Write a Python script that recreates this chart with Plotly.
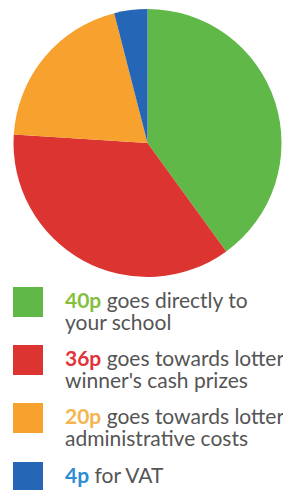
import plotly.graph_objects as go

# ---- data ----
amounts = ["40p", "36p", "20p", "4p"]
values = [40, 36, 20, 4]
line1_texts = ["goes directly to", "goes towards lottery", "goes towards lottery", "for VAT"]
line2_texts = ["your school", "winner's cash prizes", "administrative costs", ""]
slice_colors = ["#5FB847", "#DC3431", "#F7A22E", "#2566B6"]
amount_colors = ["#84BF3E", "#E2333A", "#F4B54E", "#2B8ED6"]

W, H = 283, 490

def px_x(x):
    return x / W

def px_y(y):
    return 1 - y / H

fig = go.Figure()

cx, cy, r = 147.5, 143, 134
fig.add_trace(go.Pie(
    values=values,
    labels=amounts,
    sort=False,
    direction="clockwise",
    rotation=0,
    marker=dict(colors=slice_colors, line=dict(width=0)),
    textinfo="none",
    hoverinfo="label+value",
    domain=dict(x=[px_x(cx - r), px_x(cx + r)], y=[px_y(cy + r), px_y(cy - r)]),
    showlegend=False,
))

shapes = []
annotations = []
row_top = [287, 345, 403, 462]
font = dict(family="Lato", size=21, color="#555555")
for i, amt in enumerate(amounts):
    t = row_top[i]
    shapes.append(dict(
        type="rect", xref="paper", yref="paper",
        x0=px_x(13), x1=px_x(43), y0=px_y(t + 30), y1=px_y(t),
        fillcolor=slice_colors[i], line=dict(width=0),
    ))
    base1 = t + 19.5
    lines = [f"<b><span style='color:{amount_colors[i]}'>{amt}</span></b> {line1_texts[i]}"]
    if line2_texts[i]:
        lines.append(line2_texts[i])
    for k, txt in enumerate(lines):
        base = base1 + 21.5 * k
        annotations.append(dict(
            xref="paper", yref="paper",
            x=px_x(63), y=px_y(base - 7),
            xanchor="left", yanchor="middle", align="left",
            showarrow=False,
            text=txt,
            font=font,
        ))

fig.update_layout(
    width=W, height=H,
    margin=dict(l=0, r=0, t=0, b=0),
    paper_bgcolor="white",
    plot_bgcolor="white",
    shapes=shapes,
    annotations=annotations,
)

fig.write_html(
    "out.html",
    config={"displayModeBar": False},
    post_script="document.body.style.margin='0';document.body.style.overflow='hidden';",
)
